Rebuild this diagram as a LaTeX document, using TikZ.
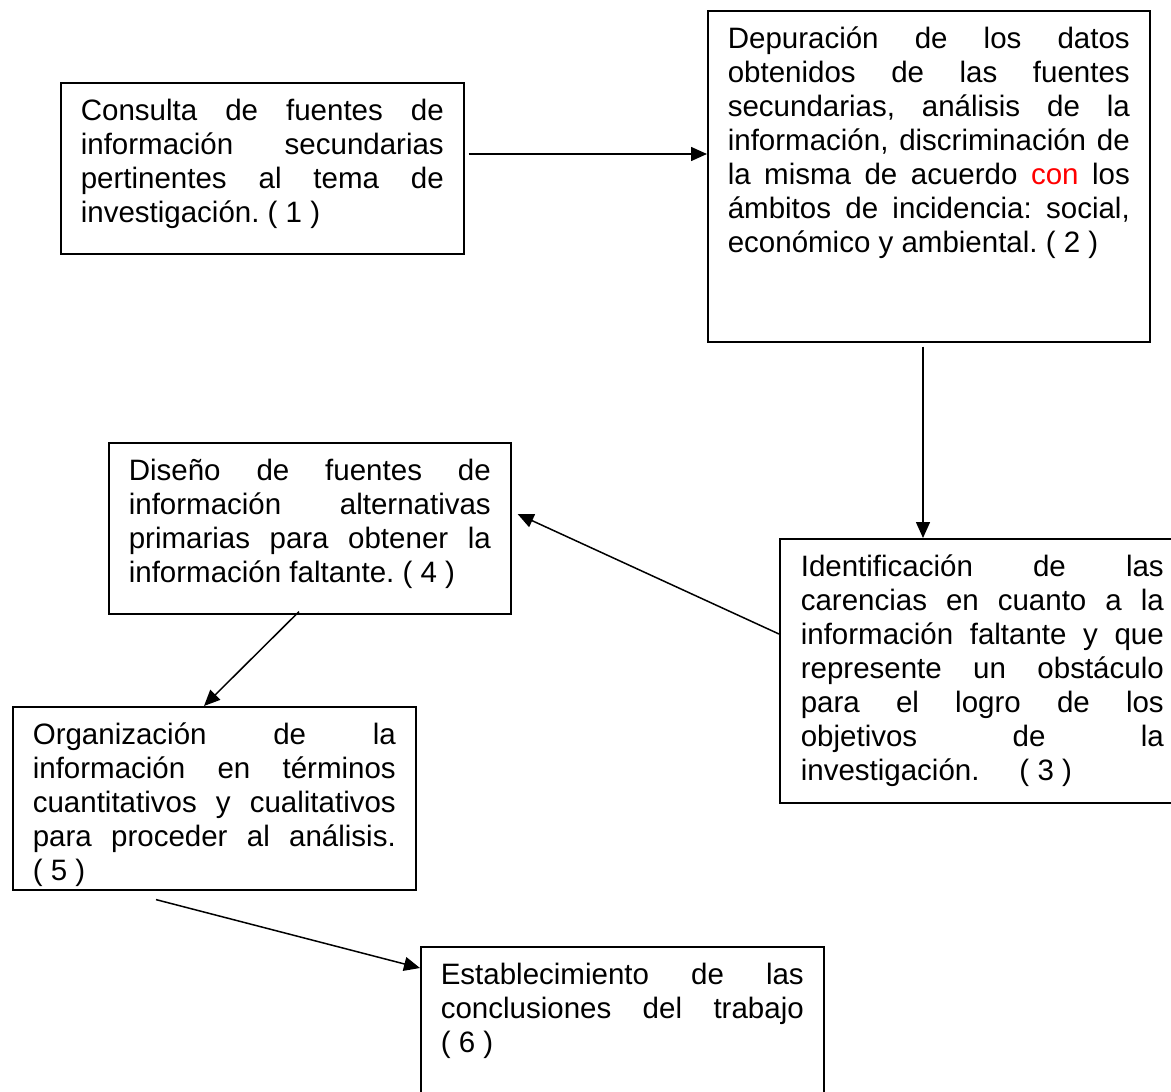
\documentclass[tikz,border=0pt]{standalone}
\usepackage{fontspec}
\setmainfont{Liberation Sans}
\usetikzlibrary{arrows.meta,calc}
\newcommand{\renglon}[1]{{\spaceskip=0pt\xspaceskip=0pt\makebox[\linewidth][s]{#1}}}
\frenchspacing
\hbadness=10000

\begin{document}
\begin{tikzpicture}[x=1pt, y=-1pt,
  paso/.style={draw, line width=1.6pt, anchor=north west, text width=363pt,
    inner xsep=20pt, inner ysep=14pt, text height=23.8pt,
    font=\fontsize{29.5}{34}\selectfont,
    execute at begin node={\spaceskip=0pt\xspaceskip=0pt}},
  flecha/.style={-{Triangle[length=16pt, width=14pt]}, line width=1.5pt}]
  \useasboundingbox (0,0) rectangle (1171,1092);

  \node[paso, text depth=119.2pt] (b1) at (60,82)
    {\renglon{Consulta de fuentes de}\\ \renglon{información secundarias}\\
     \renglon{pertinentes al tema de}\\ investigación. ( 1 )};
  \node[paso, text width=402pt, text depth=279.2pt] (b2) at (707,10)
    {\renglon{Depuración de los datos}\\ \renglon{obtenidos de las fuentes}\\
     \renglon{secundarias, análisis de la}\\ \renglon{información, discriminación de}\\
     \renglon{la misma de acuerdo \textcolor{red}{con} los}\\ \renglon{ámbitos de incidencia: social,}\\
     económico y ambiental. ( 2 )};
  \node[paso, inner xsep=21pt, text depth=212.2pt] (b3) at (779,538)
    {\renglon{Identificación de las}\\ \renglon{carencias en cuanto a la}\\
     \renglon{información faltante y que}\\ \renglon{represente un obstáculo}\\
     \renglon{para el logro de los}\\ \renglon{objetivos de la}\\
     investigación.\hspace{40pt}( 3 )};
  \node[paso, text width=362pt, text depth=119.2pt] (b4) at (108,442)
    {\renglon{Diseño de fuentes de}\\ \renglon{información alternativas}\\
     \renglon{primarias para obtener la}\\ información faltante. ( 4 )};
  \node[paso, text depth=131.2pt] (b5) at (12,706)
    {\renglon{Organización de la}\\ \renglon{información en términos}\\
     \renglon{cuantitativos y cualitativos}\\ \renglon{para proceder al análisis.}\\ ( 5 )};
  \node[paso, text depth=118.2pt] (b6) at (420,946)
    {\renglon{Establecimiento de las}\\ \renglon{conclusiones del trabajo}\\ ( 6 )};

  % puntos de salida y llegada
  \coordinate (s12) at ($(b1.north east)+(4,72)$);
  \coordinate (s23) at ($(b2.south west)+(216,4)$);
  \coordinate (s34) at ($(b3.north west)+(0,96)$);
  \coordinate (e34) at ($(b4.north east)+(6,72)$);
  \coordinate (s45) at ($(b4.south west)+(191,-3)$);
  \coordinate (e45) at ($(b5.north west)+(192,0)$);
  \coordinate (s56) at ($(b5.south west)+(144,9)$);
  \coordinate (e56) at ($(b6.north west)+(0,22)$);

  \draw[flecha] (s12) -- (s12 -| b2.west);
  \draw[flecha] (s23) -- (s23 |- b3.north);
  \draw[flecha] (s34) -- (e34);
  \draw[flecha] (s45) -- (e45);
  \draw[flecha] (s56) -- (e56);
\end{tikzpicture}
\end{document}
